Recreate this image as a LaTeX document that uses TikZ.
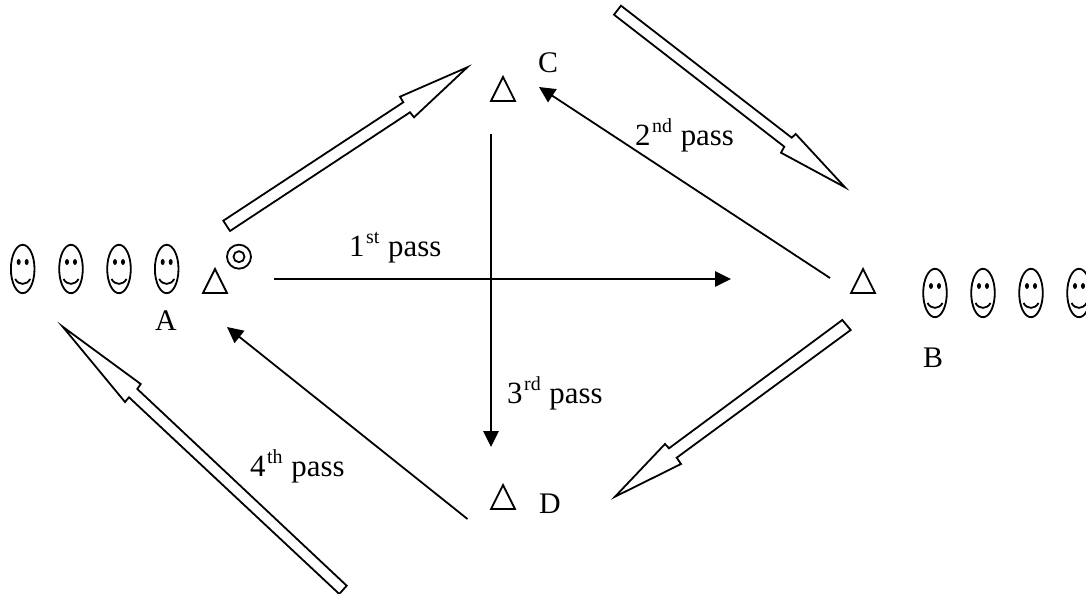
\documentclass[tikz,border=0pt]{standalone}
\usepackage{fontspec}
\setmainfont{Liberation Serif}
\usetikzlibrary{arrows.meta}
\newcommand{\passlabel}[2]{\fontsize{31}{31}\selectfont #1\kern1.5bp\raisebox{13bp}{\fontsize{20}{20}\selectfont #2}\kern1bp{} pass}
\tikzset{
  x=1bp,y=-1bp,
  thinline/.style={line width=1.8bp,black,line join=miter},
  outlined/.style={line width=1.8bp,black,fill=white,line join=miter},
  conn/.style={line width=1.8bp,black,-{Triangle[length=16bp,width=15.5bp]}},
  label/.style={inner sep=0pt,anchor=base west,font=\fontsize{30}{30}\selectfont},
  smile/.pic={
    \draw[thinline] (0,0) ellipse[x radius=11.8,y radius=24.2];
    \fill (-4,-7) ellipse[x radius=2,y radius=3];
    \fill (4,-7) ellipse[x radius=2,y radius=3];
    \draw[thinline] (-7.5,10) .. controls (-4,16.5) and (4,16.5) .. (7.5,10);
  },
  tri/.pic={
    \draw[thinline] (0,-24) -- (12,0) -- (-12,0) -- cycle;
  }
}
\begin{document}
\begin{tikzpicture}
\useasboundingbox (0,0) rectangle (1086,594);
% smileys
\foreach \x in {22.7,71,119,166.7}{\pic at (\x,269) {smile};}
\foreach \x in {935,983,1031,1079}{\pic at (\x,293) {smile};}
% triangles
\pic at (215,293) {tri};
\pic at (863,293) {tri};
\pic at (503,101) {tri};
\pic at (503,509) {tri};
% target
\draw[thinline] (239,256.7) circle[radius=12];
\draw[thinline] (239,256.7) circle[radius=5.5];
% connector ends
\coordinate (p1s) at (274,279); \coordinate (p1e) at (731,279);
\coordinate (p2s) at (830,278); \coordinate (p2e) at (539,87);
\coordinate (p3s) at (491,134); \coordinate (p3e) at (491,447);
\coordinate (p4s) at (467.5,519); \coordinate (p4e) at (227,327);
\draw[conn] (p1s) -- (p1e);
\draw[conn] (p2s) -- (p2e);
\draw[conn] (p3s) -- (p3e);
\draw[conn] (p4s) -- (p4e);
% block arrows
\draw[outlined] (223.3,220.7) -- (403.3,102.3) -- (400,96.7) -- (467.3,67.3) -- (414,117.3) -- (410,112.3) -- (230,231) -- cycle;
\draw[outlined] (621,5.7) -- (791.7,137.7) -- (795.7,134) -- (845,187.3) -- (781,152.7) -- (784.3,146.7) -- (614,14.7) -- cycle;
\draw[outlined] (842.3,320) -- (669,448.3) -- (665,444) -- (615,496.7) -- (681,464) -- (676.7,457.7) -- (850.7,330) -- cycle;
\draw[outlined] (346.7,585.7) -- (137.3,389) -- (140.7,384) -- (62.7,326.7) -- (125,402) -- (129,397.3) -- (339.3,594) -- cycle;
% labels
\node[label] (la) at (155,330) {A};
\node[label] (lb) at (923,367) {B};
\node[label] (lc) at (538,73) {C};
\node[label] (ld) at (539,513) {D};
\node[label] (t1) at (349,257) {\passlabel{1}{st}};
\node[label] (t2) at (635,145.7) {\passlabel{2}{nd}};
\node[label] (t3) at (507,403) {\passlabel{3}{rd}};
\node[label] (t4) at (250,476) {\passlabel{4}{th}};
\end{tikzpicture}
\end{document}
